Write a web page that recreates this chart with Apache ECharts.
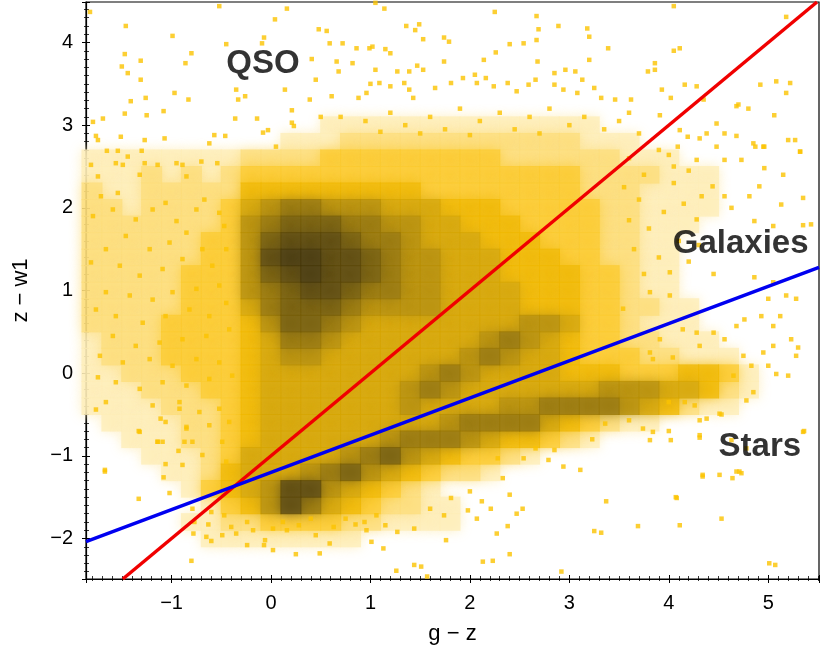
<!DOCTYPE html>
<html><head><meta charset="utf-8">
<script src="https://cdn.jsdelivr.net/npm/echarts@6/dist/echarts.min.js"></script>
<style>html,body{margin:0;padding:0;background:#fff}#c{width:822px;height:651px}</style>
</head><body><div id="c"></div>
<script>
// ---- density grid: level 0 = empty ... 10 = darkest
const gridX = [-1.8,-1.6,-1.4,-1.2,-1.0,-0.8,-0.6,-0.4,-0.2,0.0,0.2,0.4,0.6,0.8,1.0,1.2,1.4,1.6,1.8,2.0,2.2,2.4,2.6,2.8,3.0,3.2,3.4,3.6,3.8,4.0,4.2,4.4,4.6,4.8,5.0];
const gridY = [3.0,2.8,2.6,2.4,2.2,2.0,1.8,1.6,1.4,1.2,1.0,0.8,0.6,0.4,0.2,0.0,-0.2,-0.4,-0.6,-0.8,-1.0,-1.2,-1.4,-1.6,-1.8,-2.0];
const densityRows = [
 [0,0,0,0,0,0,0,0,0,0,0,0,1,1,1,1,1,1,1,1,1,1,1,1,1,1,0,0,0,0,0,0,0,0,0],
 [0,0,0,0,0,0,0,0,0,0,1,1,1,2,2,2,2,2,2,2,2,2,2,2,2,1,1,1,0,0,0,0,0,0,0],
 [1,1,1,1,1,1,1,1,2,2,2,2,3,3,3,3,3,3,3,3,3,2,2,2,2,2,2,1,1,1,0,0,0,0,0],
 [1,1,1,2,1,2,1,2,3,3,3,3,3,3,3,3,3,3,3,3,3,3,3,3,3,2,2,2,2,1,1,1,0,0,0],
 [2,1,1,2,2,2,2,2,4,4,4,4,4,4,4,4,4,3,3,3,3,3,3,3,3,2,2,2,1,1,1,1,0,0,0],
 [2,2,1,2,2,2,2,3,5,6,7,7,6,6,6,5,5,5,4,4,4,3,3,3,3,3,2,2,1,1,1,1,0,0,0],
 [2,2,2,2,2,2,2,3,6,7,8,8,8,7,7,6,6,5,5,4,4,4,3,3,3,3,2,2,1,1,1,0,0,0,0],
 [2,2,2,2,2,2,3,3,6,8,9,9,9,8,7,7,6,5,5,5,4,4,4,3,3,3,2,2,1,1,0,0,0,0,0],
 [2,2,2,2,2,2,3,3,6,9,10,10,9,9,8,7,6,6,5,5,5,4,4,4,3,3,2,2,1,1,0,0,0,0,0],
 [2,2,2,2,2,3,3,3,6,8,9,10,9,9,8,7,6,6,5,5,5,4,4,4,4,3,3,2,1,1,0,0,0,0,0],
 [2,2,2,2,2,3,3,3,6,7,8,9,9,8,7,7,6,6,5,5,5,5,4,4,4,3,3,2,1,1,0,0,0,0,0],
 [2,2,2,2,2,3,3,3,5,7,8,8,8,7,6,6,6,6,5,5,5,5,4,4,4,3,3,2,2,1,1,0,0,0,0],
 [2,2,2,2,3,3,3,3,4,6,8,8,7,6,5,5,5,5,5,5,5,5,6,6,5,3,3,2,1,1,1,0,0,0,0],
 [1,2,2,2,3,3,3,3,4,5,7,7,6,5,5,5,5,5,5,5,6,7,6,5,4,3,3,2,2,1,1,1,0,0,0],
 [1,2,2,2,3,3,3,3,4,5,6,6,5,5,5,5,5,5,5,6,7,6,5,5,4,3,3,3,2,2,1,1,1,0,0],
 [1,1,2,2,2,3,3,3,4,5,5,5,5,5,5,5,5,6,7,6,5,5,5,5,4,4,4,3,3,3,4,4,3,1,0],
 [1,1,1,2,2,2,3,3,4,5,5,5,5,5,5,5,6,7,6,5,5,5,5,5,5,5,6,6,6,5,5,4,2,1,0],
 [1,1,1,1,2,2,2,3,4,5,5,5,5,5,5,5,6,5,5,5,5,6,6,7,7,7,7,6,5,4,2,1,1,0,0],
 [0,1,1,1,1,2,2,3,4,5,5,5,5,5,5,5,5,5,6,7,7,7,7,5,4,3,2,1,1,0,0,0,0,0,0],
 [0,0,1,1,1,2,2,3,4,5,5,5,5,5,5,6,7,7,7,6,5,4,4,3,2,1,0,0,0,0,0,0,0,0,0],
 [0,0,0,1,1,1,2,3,5,5,5,5,5,6,7,8,6,5,4,3,3,2,1,0,0,0,0,0,0,0,0,0,0,0,0],
 [0,0,0,0,1,1,2,4,5,5,5,6,7,8,6,5,4,3,2,2,1,0,0,0,0,0,0,0,0,0,0,0,0,0,0],
 [0,0,0,0,0,1,3,4,5,6,9,9,6,5,4,3,2,1,0,0,0,0,0,0,0,0,0,0,0,0,0,0,0,0,0],
 [0,0,0,0,0,0,1,3,4,6,9,7,5,4,3,2,2,1,1,0,0,0,0,0,0,0,0,0,0,0,0,0,0,0,0],
 [0,0,0,0,0,1,1,2,2,3,3,3,3,2,2,1,1,1,1,0,0,0,0,0,0,0,0,0,0,0,0,0,0,0,0],
 [0,0,0,0,0,0,1,1,1,1,1,1,1,1,0,0,0,0,0,0,0,0,0,0,0,0,0,0,0,0,0,0,0,0,0]
];

// ---- individual sparse points (g-z, z-w1)
const pointsTop = [[-1.82,4.37],[-0.52,4.44],[0.16,4.41],[1.05,4.48],[1.14,4.41],[2.25,4.37],[2.67,4.32],[4.05,4.44],[5.18,4.31],[-1.46,4.20],[0.04,4.28],[-0.99,4.08],[-0.45,3.98],[-0.07,4.06],[-0.09,3.99],[0.48,4.16],[0.56,4.14],[1.36,4.20],[1.49,4.22],[1.45,4.15],[1.53,4.04],[1.74,4.06],[1.79,4.01],[2.69,4.16],[2.89,4.20],[3.18,4.17],[3.20,4.07],[3.39,3.93],[4.05,3.90],[4.11,3.93],[0.59,3.99],[0.72,3.99],[0.86,3.93],[0.99,3.93],[1.02,3.95],[1.15,3.92],[1.20,3.87],[-1.47,3.86],[-1.31,3.78],[-0.80,3.87],[-0.86,3.75],[-1.50,3.71],[-1.44,3.63],[-1.31,3.55],[0.41,3.80],[0.45,3.55],[0.66,3.77],[0.68,3.65],[0.82,3.75],[1.05,3.67],[1.27,3.65],[1.39,3.65],[1.47,3.72],[1.53,3.67],[1.74,3.77],[2.14,3.79],[2.26,3.88],[2.40,3.98],[2.54,3.99],[2.67,4.03],[2.68,3.77],[2.85,3.63],[2.96,3.67],[3.06,3.65],[3.13,3.55],[3.20,3.79],[3.79,3.65],[3.86,3.75],[3.86,3.67],[5.08,3.53],[5.22,3.51],[5.18,3.39],[-0.97,3.39],[-0.83,3.31],[-1.41,3.29],[-1.26,3.33],[-1.25,3.12],[-1.08,3.17],[-1.47,3.14],[-1.69,3.08],[-1.79,3.04],[-1.51,2.86],[-1.27,2.82],[-1.07,2.84],[-1.76,2.87],[-1.74,2.82],[-1.65,2.69],[-1.54,2.69],[-1.30,2.69],[-1.44,2.62],[-0.46,2.87],[-0.57,2.88],[-0.62,2.78],[-0.35,3.43],[-0.33,3.31],[-0.26,3.35],[-0.36,3.08],[-0.14,3.08],[-0.08,2.91],[-0.03,2.94],[0.05,2.74],[0.21,3.03],[0.23,2.99],[0.14,3.43],[0.21,3.18],[0.39,3.31],[0.61,3.35],[0.88,3.33],[0.96,3.39],[1.00,3.50],[1.09,3.51],[1.20,3.47],[1.34,3.51],[1.39,3.43],[1.43,3.33],[1.65,3.45],[1.81,3.51],[1.93,3.57],[2.05,3.61],[2.07,3.51],[2.16,3.57],[2.24,3.47],[2.38,3.51],[2.47,3.41],[2.59,3.49],[2.66,3.55],[2.85,3.49],[2.94,3.43],[3.08,3.39],[3.25,3.45],[3.32,3.33],[3.46,3.31],[3.62,3.31],[3.93,3.43],[4.02,3.33],[4.16,3.49],[4.28,3.47],[4.35,3.31],[4.68,3.23],[4.80,3.20],[4.92,3.49],[5.06,3.12],[5.27,2.82],[5.32,2.68],[4.56,2.90],[4.68,2.87],[4.87,2.74],[4.96,2.74],[4.31,2.84],[4.19,2.86],[4.09,2.74],[4.00,2.64],[0.70,3.10],[0.95,3.05],[1.20,3.15],[1.35,3.00],[1.60,3.10],[1.75,2.95],[1.90,3.20],[2.10,3.05],[2.30,3.15],[2.45,2.95],[2.60,3.10],[2.80,3.20],[3.00,3.00],[3.15,3.10],[3.35,2.95],[1.10,2.92],[1.50,2.90],[2.00,2.88],[2.70,2.90],[3.50,3.05],[0.50,3.10],[3.70,2.90],[3.60,3.15]];
const pointsLeft = [[-1.81,2.52],[-1.74,2.38],[-1.56,2.54],[-1.49,2.52],[-1.32,2.40],[-1.27,2.54],[-1.14,2.52],[-0.95,2.54],[-0.89,2.52],[-0.85,2.38],[-0.70,2.56],[-0.54,2.54],[-1.71,2.14],[-1.54,2.18],[-1.59,1.98],[-1.79,1.90],[-1.36,1.86],[-1.19,1.98],[-1.06,2.06],[-0.95,1.84],[-0.75,1.98],[-0.67,2.10],[-0.52,1.94],[-0.47,1.78],[-0.85,1.70],[-1.02,1.58],[-1.22,1.50],[-1.46,1.66],[-1.66,1.50],[-1.81,1.34],[-1.52,1.30],[-1.32,1.18],[-1.09,1.26],[-0.89,1.38],[-0.69,1.50],[-0.59,1.30],[-0.45,1.50],[-0.52,1.06],[-0.75,1.02],[-0.99,0.98],[-1.19,0.89],[-1.42,0.94],[-1.66,0.98],[-1.76,0.77],[-1.56,0.69],[-1.29,0.61],[-1.06,0.69],[-0.82,0.77],[-0.62,0.69],[-0.45,0.85],[-0.42,0.53],[-0.65,0.45],[-0.89,0.41],[-1.12,0.37],[-1.36,0.33],[-1.59,0.45],[-1.72,0.21],[-1.49,0.13],[-1.22,0.17],[-0.99,0.09],[-0.75,0.17],[-0.52,0.13],[-0.39,-0.03],[-0.62,-0.07],[-0.85,-0.15],[-1.09,-0.11],[-1.32,-0.19],[-1.56,-0.11],[-1.74,-0.05],[-1.66,-0.35],[-1.19,-0.39],[-0.92,-0.35],[-0.72,-0.47],[-0.52,-0.43],[-0.42,-0.59],[-0.62,-0.63],[-0.85,-0.67],[-1.06,-0.59],[-1.32,-0.71],[-1.09,-0.83],[-0.79,-0.83],[-0.49,-0.83],[-0.69,-0.99],[-0.45,-1.07],[-0.89,-1.11],[-1.14,-0.83],[-1.67,-1.19]];
const pointsRight = [[4.70,3.25],[4.95,2.74],[4.85,2.78],[4.73,2.58],[4.56,2.58],[4.48,2.74],[4.28,2.58],[4.38,2.90],[4.48,3.02],[4.11,2.94],[3.91,3.12],[5.20,2.82],[5.32,2.68],[4.96,2.48],[5.15,2.40],[4.91,2.26],[5.35,2.12],[5.13,2.04],[4.81,2.14],[4.63,2.00],[4.56,2.14],[4.44,2.26],[4.33,2.14],[4.28,1.86],[4.86,1.84],[5.05,1.78],[5.35,1.79],[5.43,1.80],[4.45,1.20],[4.01,1.22],[3.81,0.98],[3.54,0.78],[4.01,0.94],[4.86,1.16],[5.05,1.10],[5.18,0.94],[5.00,0.90],[5.28,0.90],[4.68,0.57],[4.76,0.65],[4.93,0.69],[5.12,0.69],[5.05,0.57],[5.05,0.33],[5.23,0.41],[5.30,0.31],[5.28,0.21],[4.95,0.25],[5.00,0.09],[4.83,0.09],[4.75,0.21],[4.56,0.41],[4.45,0.49],[4.28,0.49],[4.14,0.53],[4.31,0.33],[3.91,0.41],[3.81,0.25],[3.84,0.17],[4.04,0.19],[5.08,-0.01],[5.20,-0.03],[4.65,-0.03],[4.85,-0.23],[4.51,-0.49],[4.38,-0.55],[4.31,-0.75],[4.63,-0.81],[4.78,-0.91],[4.51,-1.23],[4.71,-1.19],[4.34,-1.23],[4.08,-1.51],[5.35,-0.71],[3.60,2.60],[3.75,2.40],[3.90,2.70],[4.05,2.30],[3.70,2.10],[3.95,1.95],[4.15,2.05],[3.80,1.75],[4.10,1.60],[3.65,1.50],[3.90,1.40],[4.20,1.35],[3.75,1.20],[4.30,1.55],[4.05,2.50],[3.55,2.25],[3.60,1.85],[4.20,2.45]];
const pointsBottom = [[-1.76,-0.44],[-1.67,-1.17],[-1.33,-0.70],[-1.33,-1.52],[-1.14,-0.83],[-1.11,-0.55],[-1.08,-1.26],[-1.02,-1.45],[-1.06,-1.10],[-0.92,-0.43],[-0.93,-0.94],[-0.87,-0.83],[-0.85,-0.65],[-0.79,-1.64],[-0.77,-1.80],[-0.78,-1.94],[-0.65,-1.98],[-0.80,-2.27],[-0.60,-2.03],[-0.63,-1.83],[-0.49,-1.96],[-0.35,-1.94],[-0.24,-2.08],[-0.06,-2.02],[-0.07,-2.08],[0.02,-2.14],[0.25,-2.19],[0.45,-1.96],[0.59,-2.06],[0.49,-2.18],[0.85,-1.83],[0.96,-1.90],[1.01,-2.04],[1.13,-2.12],[1.27,-1.92],[1.26,-2.39],[1.44,-2.32],[1.51,-2.34],[1.57,-2.46],[1.60,-1.64],[1.74,-1.72],[1.76,-2.02],[1.98,-1.66],[2.07,-1.76],[2.13,-2.28],[2.23,-2.27],[2.27,-1.94],[2.38,-1.85],[2.40,-2.19],[2.53,-1.64],[2.47,-1.70],[2.79,-1.05],[2.85,-0.93],[2.94,-1.13],[3.11,-1.17],[2.92,-2.40],[3.25,-1.91],[3.32,-1.93],[3.37,-1.55],[3.69,-1.85],[4.00,-0.70],[4.11,-1.84],[4.07,-1.50],[4.34,-1.25],[4.53,-0.50],[4.53,-1.76],[4.64,-1.27],[4.68,-1.19],[4.73,-1.21],[4.78,-0.33],[5.01,-2.30],[5.07,-2.32],[5.36,-0.70],[4.31,-0.78],[4.02,-0.81],[3.81,-0.81],[3.84,-0.71],[3.23,-0.80],[3.36,-0.61],[4.00,-0.35],[4.16,-0.35],[4.26,-0.39],[4.31,-0.57],[3.60,-0.57],[3.74,-0.67],[2.33,-1.27],[2.28,-1.03],[2.40,-1.47],[2.54,-1.03],[2.66,-0.91],[1.81,-1.51],[2.00,-1.43],[2.12,-1.55],[2.21,-1.64],[1.44,-1.88],[1.15,-1.84],[1.06,-1.72],[0.94,-1.80],[0.75,-1.76],[0.63,-1.86],[0.40,-1.76],[0.28,-1.84],[0.12,-1.80],[0.16,-1.90],[0.02,-1.88],[-0.18,-1.90],[-0.24,-1.80],[-0.40,-1.86],[-0.47,-1.72],[-0.60,-1.68]];

// ---- selection lines (two end points each, in data units)
const redLine = [[-1.49,-2.49],[5.49,4.49]];
const blueLine = [[-1.86,-2.037],[5.51,1.28]];

// ---- annotations
const labelNames = ['QSO','Galaxies','Stars'];
const labelX = [-0.45, 4.04, 4.50];
const labelY = [3.74, 1.56, -0.89];

// ---- styles
const palette = ['#ffffff','#feeeb8','#fddd7a','#fbcb30','#f0b800','#d6a503','#b88f04','#977505','#765c06','#5b4707','#463707'];
const FONT = 'Liberation Sans';

const cells = [];
densityRows.forEach((row, i) => row.forEach((lv, j) => { if (lv > 0) cells.push([gridX[j], gridY[i], lv]); }));
cells.sort((a, b) => a[2] - b[2]);
const cellItems = cells.map(c => ({ value: c, itemStyle: { color: palette[c[2]], shadowColor: palette[c[2]], shadowBlur: 12 } }));
const allPoints = pointsTop.concat(pointsLeft, pointsRight, pointsBottom);
const labelData = labelNames.map((n, i) => ({ name: n, value: [labelX[i], labelY[i]] }));

const tickFmt = v => {
  const r = Math.round(v);
  if (Math.abs(v - r) > 1e-6) return '';
  return r < 0 ? '\u2212' + Math.abs(r) : String(r);
};

function axisPair(dim, min, max, name, nameGap) {
  const main = {
    type: 'value', min: min, max: max, splitNumber: 7,
    position: dim === 'x' ? 'bottom' : 'left',
    axisLine: { show: true, onZero: false, lineStyle: { color: '#000', width: 1.2 } },
    axisTick: { show: true, inside: false, length: 4, lineStyle: { color: '#000', width: 1 } },
    minorTick: { show: true, splitNumber: 10, length: 2, lineStyle: { color: '#000', width: 0.8 } },
    splitLine: { show: false }, minorSplitLine: { show: false },
    axisLabel: { show: true, margin: dim === 'x' ? 14 : 13, fontSize: 20, color: '#000', fontFamily: FONT, formatter: tickFmt },
    name: name, nameLocation: 'middle', nameGap: nameGap,
    nameTextStyle: { fontSize: 22, color: '#000', fontFamily: FONT }
  };
  const inner = {
    type: 'value', min: min, max: max, splitNumber: 7,
    position: dim === 'x' ? 'bottom' : 'left', offset: 0,
    axisLine: { show: false, onZero: false },
    axisTick: { show: true, inside: true, length: 4, lineStyle: { color: '#000', width: 1 } },
    minorTick: { show: true, splitNumber: 10, length: 3, lineStyle: { color: '#000', width: 0.8 } },
    splitLine: { show: false }, axisLabel: { show: false }
  };
  return [main, inner];
}

const chart = echarts.init(document.getElementById('c'), null, { renderer: 'canvas' });
chart.setOption({
  animation: false,
  backgroundColor: '#fff',
  grid: { left: 86, right: 3, top: 2, bottom: 72, show: true, borderColor: '#000', borderWidth: 1.2, backgroundColor: 'transparent' },
  xAxis: axisPair('x', -1.86, 5.51, 'g \u2212 z', 44),
  yAxis: axisPair('y', -2.49, 4.49, 'z \u2212 w1', 54),
  series: [
    { type: 'scatter', name: 'density', data: cellItems, symbol: 'rect', symbolSize: [21, 17.6], silent: true, z: 1 },
    { type: 'scatter', name: 'sources', data: allPoints, symbol: 'rect', symbolSize: 4.5, silent: true, z: 2,
      itemStyle: { color: '#fbc300' } },
    { type: 'line', name: 'qso cut', data: redLine, showSymbol: false, symbol: 'none', silent: true, z: 3,
      lineStyle: { color: '#f00000', width: 3.5 } },
    { type: 'line', name: 'star cut', data: blueLine, showSymbol: false, symbol: 'none', silent: true, z: 3,
      lineStyle: { color: '#0000f0', width: 3.5 } },
    { type: 'scatter', name: 'labels', data: labelData, symbolSize: 0, silent: true, z: 4,
      label: { show: true, position: 'right', distance: 0, formatter: '{b}', fontSize: 33, fontWeight: 'bold', color: '#000', fontFamily: FONT } }
  ]
});
</script></body></html>
